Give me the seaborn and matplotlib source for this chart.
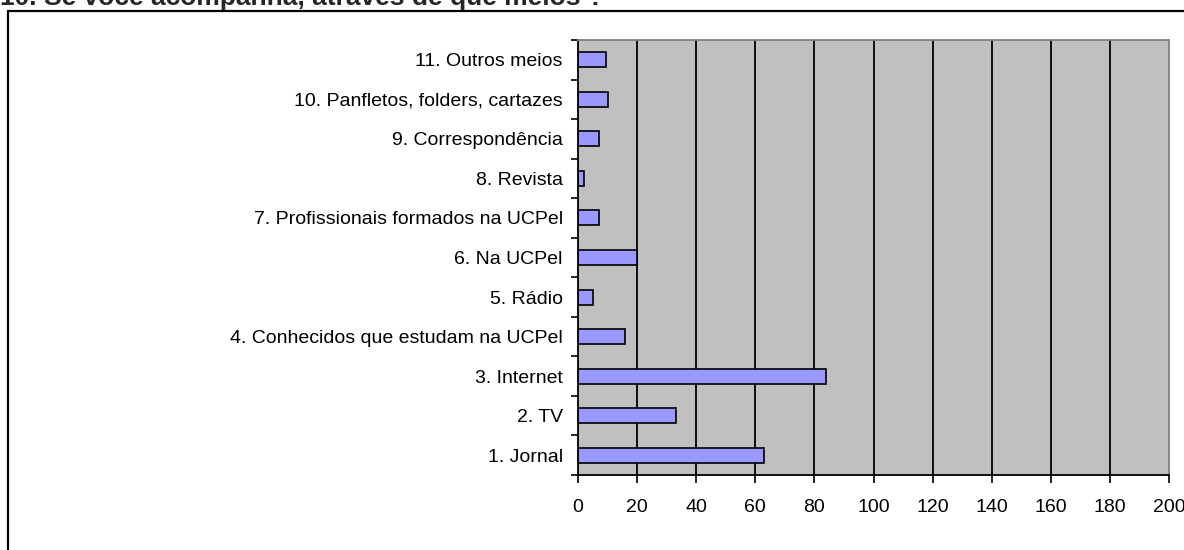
import matplotlib
matplotlib.use("Agg")
import matplotlib.pyplot as plt
import seaborn as sns
import pandas as pd
from matplotlib.patches import Rectangle

categories = [
    "11. Outros meios",
    "10. Panfletos, folders, cartazes",
    "9. Correspondência",
    "8. Revista",
    "7. Profissionais formados na UCPel",
    "6. Na UCPel",
    "5. Rádio",
    "4. Conhecidos que estudam na UCPel",
    "3. Internet",
    "2. TV",
    "1. Jornal",
]
values = [9.5, 10, 7, 2, 7, 20, 5, 16, 84, 33, 63]
xticks = list(range(0, 201, 20))
title = "10. Se você acompanha, através de que meios ?"

sns.set_theme(style="white")
plt.rcParams["font.family"] = ["Liberation Sans", "DejaVu Sans"]

df = pd.DataFrame({"cat": categories, "val": values})

W, H = 1184, 550
fig = plt.figure(figsize=(W / 100, H / 100), dpi=100)
ax = fig.add_axes([578 / W, 1 - 475 / H, 591 / W, 435 / H])
ax.set_facecolor("#C0C0C0")

for x in xticks[1:-1]:
    ax.axvline(x, color="black", lw=1.3, zorder=0.5)

sns.barplot(data=df, x="val", y="cat", order=categories, orient="h",
            color="#9999FF", edgecolor="black", linewidth=1.2,
            width=0.38, saturation=1, ax=ax, zorder=2)

ax.set_xlim(0, 200)
ax.set_ylim(len(categories) - 0.5, -0.5)
ax.set_xticks(xticks)
ax.set_xticklabels([str(v) for v in xticks], fontsize=14, color="black")
ax.tick_params(axis="x", direction="out", length=6, width=1.2, color="black", pad=11, bottom=True)

ax.set_yticks([i - 0.5 for i in range(len(categories) + 1)])
ax.set_yticklabels([])
ax.set_yticks(range(len(categories)), minor=True)
ax.set_yticklabels(categories, minor=True, fontsize=14, color="black")
ax.tick_params(axis="y", which="major", direction="out", length=5, width=1.2, color="black", left=True)
ax.tick_params(axis="y", which="minor", length=0, pad=11)

ax.set_xlabel("")
ax.set_ylabel("")

for s in ["left", "bottom"]:
    ax.spines[s].set_color("black")
    ax.spines[s].set_linewidth(1.3)
for s in ["top", "right"]:
    ax.spines[s].set_color("#808080")
    ax.spines[s].set_linewidth(1.3)
    ax.spines[s].set_visible(True)

# outer chart border
fig.patches.append(Rectangle((8 / W, -0.1), 1.2, 1 - 11 / H + 0.1, transform=fig.transFigure,
                             fill=False, edgecolor="black", lw=1.6, zorder=0))

fig.text(0 / W, 1 - 5 / H, title, fontsize=19, fontweight="bold", ha="left", va="baseline")

fig.savefig("out.png", dpi=100)
